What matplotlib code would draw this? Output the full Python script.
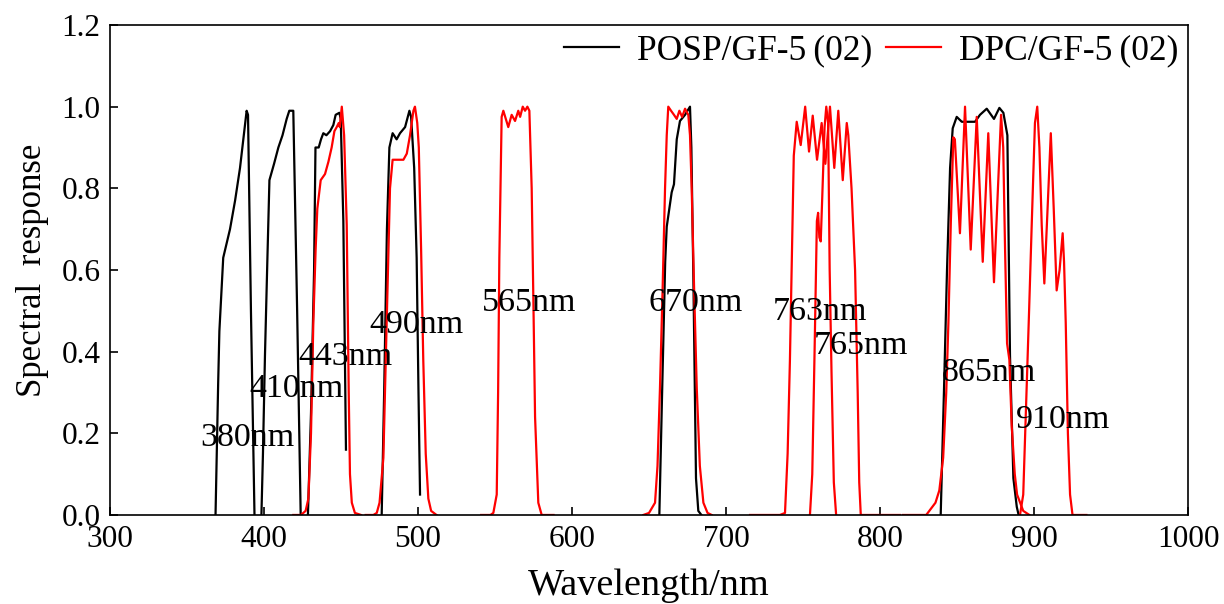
import numpy as np
import matplotlib.pyplot as plt

# POSP/GF-5(02) bands (wavelength nm, response)
posp_380_wl = [368.5, 369.3, 370.2, 371.0, 373.5, 377.9, 381.2, 384.4, 388.7, 389.6, 391.5, 393.8]
posp_380_r = [0, 0.15, 0.32, 0.45, 0.63, 0.70, 0.77, 0.85, 0.99, 0.98, 0.5, 0]

posp_410_wl = [398.3, 399.3, 400.6, 402.2, 403.5, 406.5, 409.3, 412.0, 414.7, 416.4, 419.0, 421.5, 423.8]
posp_410_r = [0, 0.15, 0.39, 0.63, 0.82, 0.86, 0.90, 0.93, 0.97, 0.99, 0.99, 0.5, 0]

posp_443_wl = [428.5, 430.5, 432.5, 433.4, 435.5, 437.0, 438.5, 440.5, 442.9, 445.0, 446.5, 448.9, 449.8, 451.5, 453.2]
posp_443_r = [0, 0.25, 0.6, 0.90, 0.90, 0.92, 0.935, 0.93, 0.94, 0.955, 0.98, 0.985, 0.97, 0.72, 0.16]

posp_490_wl = [476.4, 478.0, 479.8, 481.4, 483.5, 486.1, 488.3, 491.6, 494.4, 495.5, 497.5, 499.1, 500.3, 501.3]
posp_490_r = [0, 0.3, 0.7, 0.90, 0.935, 0.92, 0.935, 0.95, 0.99, 0.975, 0.85, 0.63, 0.3, 0.05]

posp_670_wl = [656.7, 658.5, 660.5, 661.5, 664.7, 666.2, 668.0, 670.1, 673.4, 676.6, 677.5, 678.8, 680.5, 682.0, 684.0]
posp_670_r = [0, 0.3, 0.62, 0.706, 0.79, 0.81, 0.92, 0.965, 0.98, 1.0, 0.9, 0.58, 0.09, 0.01, 0]

posp_865_wl = [839.4, 841.5, 843.5, 845.5, 847.2, 849.8, 853.1, 861.7, 864.9, 869.3, 874.0, 877.5, 880.1, 882.7, 884.4, 886.6, 888.8, 890.0]
posp_865_r = [0, 0.3, 0.6, 0.85, 0.947, 0.975, 0.963, 0.963, 0.98, 0.995, 0.97, 0.997, 0.985, 0.93, 0.39, 0.09, 0.02, 0]

# DPC/GF-5(02) bands
dpc_443_wl = [419, 424, 427, 428.8, 430.5, 432, 433.5, 434.6, 436.8, 439.6, 441.8, 443.9, 445.7, 447.2, 448.5, 449.2,
              450.5, 452, 453.7, 455, 455.8, 457, 459, 463]
dpc_443_r = [0, 0, 0.01, 0.04, 0.2, 0.47, 0.65, 0.75, 0.82, 0.835, 0.865, 0.9, 0.94, 0.95, 0.96, 0.95,
             1.0, 0.93, 0.71, 0.3, 0.10, 0.03, 0.005, 0]

dpc_490_wl = [466, 471, 473.2, 475, 477.5, 479.5, 481.8, 483.5, 486, 490.5, 492.7, 494.8, 497, 498, 499.5, 500.5,
              502, 503.4, 505, 506.7, 508.5, 512]
dpc_490_r = [0, 0, 0.005, 0.03, 0.14, 0.45, 0.80, 0.87, 0.87, 0.87, 0.885, 0.93, 0.99, 1.0, 0.96, 0.9,
             0.65, 0.38, 0.15, 0.04, 0.01, 0]

dpc_565_wl = [541, 547, 548.9, 551.1, 552, 552.8, 554.3, 555.4, 558.6, 560.8, 563.0, 565.1, 566.3, 568.0, 569.5,
              571.0, 572.3, 573.8, 575, 576, 578.1, 580.3, 588]
dpc_565_r = [0, 0, 0.005, 0.05, 0.3, 0.63, 0.975, 0.99, 0.95, 0.98, 0.965, 0.99, 0.975, 1.0, 0.99,
             1.0, 0.99, 0.8, 0.5, 0.24, 0.03, 0, 0]

dpc_670_wl = [646.3, 650, 653.9, 655.5, 657.1, 658.8, 660.4, 661.5, 662.5, 664.3, 666.2, 668.0, 669.7, 671.5,
              673.4, 675.5, 676.6, 677.7, 679.3, 681, 683, 685.3, 688, 690.7]
dpc_670_r = [0, 0.005, 0.03, 0.12, 0.31, 0.55, 0.80, 0.93, 1.0, 0.99, 0.98, 0.97, 0.99, 0.975,
             0.995, 0.98, 0.93, 0.80, 0.55, 0.31, 0.12, 0.03, 0.005, 0]

dpc_765_wl = [715.6, 735, 738.3, 740, 741.5, 742.6, 744, 745.9, 748.5, 751.4, 753.9, 756.3, 759.1, 762.1, 764.5,
              767.5, 770.3, 772.9, 775.8, 778.4, 779.4, 781.5, 783.8, 785.5, 786.5, 787.5, 790, 813]
dpc_765_r = [0, 0, 0.005, 0.15, 0.38, 0.6, 0.88, 0.963, 0.906, 1.0, 0.89, 0.978, 0.87, 0.96, 0.86,
             1.0, 0.85, 0.99, 0.82, 0.96, 0.93, 0.8, 0.6, 0.3, 0.08, 0, 0, 0]

dpc_763_wl = [754.5, 756, 757.5, 759, 759.8, 760.6, 761.5, 762.5, 764, 765.1, 766.3, 767.3, 768.5, 770, 771.5]
dpc_763_r = [0, 0.1, 0.4, 0.72, 0.74, 0.68, 0.67, 0.78, 0.95, 1.0, 0.96, 0.6, 0.35, 0.08, 0]

dpc_865_wl = [815, 826, 830, 833, 836, 838.5, 841, 843, 844.4, 846, 847.6, 848.6, 851.9, 855.2, 858.9, 862.8,
              866.7, 870.3, 874.0, 878.6, 880, 881.2, 882.5, 884, 885.5, 887.5, 889, 891, 893, 897]
dpc_865_r = [0, 0, 0, 0.015, 0.03, 0.06, 0.14, 0.3, 0.47, 0.72, 0.925, 0.92, 0.69, 1.0, 0.65, 0.975,
             0.62, 0.935, 0.57, 0.98, 0.9, 0.65, 0.42, 0.38, 0.22, 0.1, 0.05, 0.03, 0.01, 0]

dpc_910_wl = [890.9, 893, 895.2, 896.8, 898.5, 900.6, 902.1, 903.5, 905, 906.7, 908.8, 910.9, 912.8, 914.7,
              916.6, 918.6, 919.5, 920.6, 922, 923.4, 925, 934]
dpc_910_r = [0, 0.05, 0.31, 0.5, 0.71, 0.96, 1.0, 0.9, 0.71, 0.567, 0.75, 0.935, 0.75, 0.55,
             0.6, 0.69, 0.62, 0.47, 0.2, 0.05, 0, 0]

band_names = ["380nm", "410nm", "443nm", "490nm", "565nm", "670nm", "763nm", "765nm", "865nm", "910nm"]
name_x = [389, 421, 453, 499, 572.4, 680.5, 761, 787.7, 870.5, 918.8]
name_y = [0.19, 0.31, 0.387, 0.465, 0.52, 0.52, 0.497, 0.414, 0.348, 0.233]

posp = [(posp_380_wl, posp_380_r), (posp_410_wl, posp_410_r), (posp_443_wl, posp_443_r),
        (posp_490_wl, posp_490_r), (posp_670_wl, posp_670_r), (posp_865_wl, posp_865_r)]
dpc = [(dpc_443_wl, dpc_443_r), (dpc_490_wl, dpc_490_r), (dpc_565_wl, dpc_565_r), (dpc_670_wl, dpc_670_r),
       (dpc_765_wl, dpc_765_r), (dpc_763_wl, dpc_763_r), (dpc_865_wl, dpc_865_r), (dpc_910_wl, dpc_910_r)]

plt.rcParams['font.family'] = ['Liberation Serif', 'DejaVu Serif']

fig = plt.figure(figsize=(12.24, 6.04), dpi=100)
ax = fig.add_axes([0.0899, 0.1474, 0.8807, 0.8112])

for i, (wl, r) in enumerate(posp):
    ax.plot(wl, r, color="black", lw=1.6, label="POSP/GF-5\u2009(02)" if i == 0 else None)
for i, (wl, r) in enumerate(dpc):
    ax.plot(wl, r, color="#ff0000", lw=1.6, label="DPC/GF-5\u2009(02)" if i == 0 else None)

for name, x, y in zip(band_names, name_x, name_y):
    ax.text(x, y, name, fontsize=24.5, ha="center", va="center")

ax.set_xlim(300, 1000)
ax.set_ylim(0, 1.2)
ax.set_xticks([300, 400, 500, 600, 700, 800, 900, 1000])
ax.set_yticks([0.0, 0.2, 0.4, 0.6, 0.8, 1.0, 1.2])
ax.yaxis.set_major_formatter(plt.FormatStrFormatter('%.1f'))
ax.tick_params(direction="in", length=6, width=1.2, labelsize=22.5)
ax.tick_params(axis="y", pad=7)
ax.tick_params(axis="x", pad=7)
for s in ax.spines.values():
    s.set_linewidth(1.2)

ax.set_xlabel("Wavelength/nm", fontsize=27.5, labelpad=11)
ax.set_ylabel("Spectral  response", fontsize=25, labelpad=9)

ax.legend(loc="upper right", bbox_to_anchor=(1.0056, 1.014), ncol=2, frameon=False, fontsize=25.5,
          handlelength=1.55, columnspacing=0.4, handletextpad=0.5, borderaxespad=0.05)

fig.savefig("out.png", dpi=100)
